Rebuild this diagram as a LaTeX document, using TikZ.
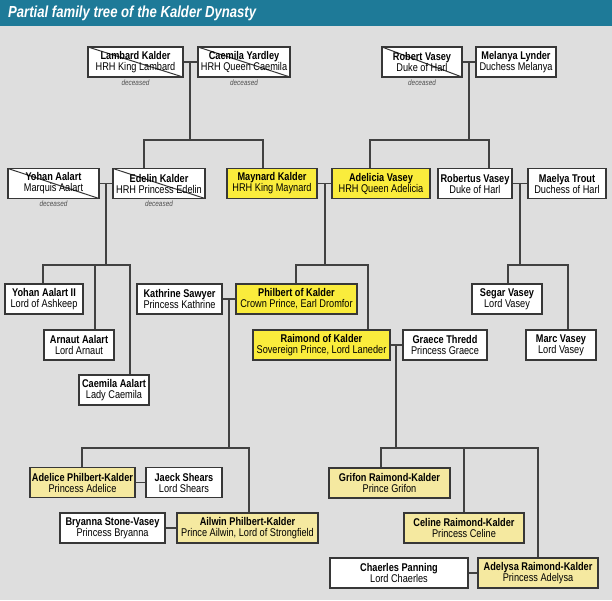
\documentclass[tikz,border=0pt]{standalone}
\usepackage{fontspec}
\setmainfont{Liberation Sans}[FakeStretch=0.82]
\usetikzlibrary{calc}
\definecolor{titlebar}{RGB}{30,122,152}
\definecolor{backdrop}{RGB}{222,222,222}
\definecolor{boxline}{RGB}{55,55,55}
\definecolor{linkgrey}{RGB}{65,65,65}
\definecolor{royalyellow}{RGB}{250,236,60}
\definecolor{paleyellow}{RGB}{245,233,160}
\definecolor{deadgrey}{RGB}{80,80,80}
\begin{document}
\begin{tikzpicture}[x=1pt,y=-1pt,
  person/.style={draw=boxline,line width=1.4pt,fill=white,minimum height=30pt,inner sep=0pt,align=center,font=\fontsize{11.2}{11}\selectfont},
  royal/.style={person,fill=royalyellow},
  heir/.style={person,fill=paleyellow},
  dead/.style={path picture={\draw[boxline,line width=1pt] (path picture bounding box.north west) -- (path picture bounding box.south east);},
    label={[font=\fontsize{7.8}{8}\selectfont\itshape,text=deadgrey,inner sep=1pt,label distance=0.5pt]below:deceased}},
  link/.style={draw=linkgrey,line width=1.5pt}]
\useasboundingbox (0,0) rectangle (612,600);
\fill[backdrop] (0,0) rectangle (612,600);
\fill[titlebar] (0,0) rectangle (612,26);
\node[anchor=west,text=white,inner sep=0pt,font=\fontsize{16}{16}\selectfont\bfseries\itshape] (title) at (8,13.5) {Partial family tree of the Kalder Dynasty};
\node[person,dead,minimum width=95pt] (lambard) at (135.5,62) {\textbf{Lambard Kalder}\\HRH King Lambard};
\node[person,dead,minimum width=92pt] (caemilay) at (244,62) {\textbf{Caemila Yardley}\\HRH Queen Caemila};
\node[person,dead,minimum width=80pt] (robert) at (422,62) {\textbf{Robert Vasey}\\Duke of Harl};
\node[person,minimum width=80pt] (melanya) at (516,62) {\textbf{Melanya Lynder}\\Duchess Melanya};
\node[person,dead,minimum width=91pt] (yohan) at (53.5,183.5) {\textbf{Yohan Aalart}\\Marquis Aalart};
\node[person,dead,minimum width=92pt] (edelin) at (159,183.5) {\textbf{Edelin Kalder}\\HRH Princess Edelin};
\node[royal,minimum width=90pt] (maynard) at (272,183.5) {\textbf{Maynard Kalder}\\HRH King Maynard};
\node[royal,minimum width=98pt] (adelicia) at (381,183.5) {\textbf{Adelicia Vasey}\\HRH Queen Adelicia};
\node[person,minimum width=74pt] (robertus) at (475,183.5) {\textbf{Robertus Vasey}\\Duke of Harl};
\node[person,minimum width=78pt] (maelya) at (567,183.5) {\textbf{Maelya Trout}\\Duchess of Harl};
\node[person,minimum width=78pt] (yohanii) at (44,299) {\textbf{Yohan Aalart II}\\Lord of Ashkeep};
\node[person,minimum width=85pt] (kathrine) at (179.5,299) {\textbf{Kathrine Sawyer}\\Princess Kathrine};
\node[royal,minimum width=121pt] (philbert) at (296.5,299) {\textbf{Philbert of Kalder}\\Crown Prince, Earl Dromfor};
\node[person,minimum width=70pt] (segar) at (507,299) {\textbf{Segar Vasey}\\Lord Vasey};
\node[person,minimum width=70pt] (arnaut) at (79,345) {\textbf{Arnaut Aalart}\\Lord Arnaut};
\node[royal,minimum width=137pt] (raimond) at (321.5,345) {\textbf{Raimond of Kalder}\\Sovereign Prince, Lord Laneder};
\node[person,minimum width=84pt] (graece) at (445,345) {\textbf{Graece Thredd}\\Princess Graece};
\node[person,minimum width=70pt] (marc) at (561,345) {\textbf{Marc Vasey}\\Lord Vasey};
\node[person,minimum width=70pt] (caemilaa) at (114,390) {\textbf{Caemila Aalart}\\Lady Caemila};
\node[heir,minimum width=105pt] (adelice) at (82.5,482.5) {\textbf{Adelice Philbert-Kalder}\\Princess Adelice};
\node[person,minimum width=76pt] (jaeck) at (184,482.5) {\textbf{Jaeck Shears}\\Lord Shears};
\node[heir,minimum width=121pt] (grifon) at (389.5,483) {\textbf{Grifon Raimond-Kalder}\\Prince Grifon};
\node[person,minimum width=105pt] (bryanna) at (112.5,528) {\textbf{Bryanna Stone-Vasey}\\Princess Bryanna};
\node[heir,minimum width=141pt] (ailwin) at (247.5,528) {\textbf{Ailwin Philbert-Kalder}\\Prince Ailwin, Lord of Strongfield};
\node[heir,minimum width=120pt] (celine) at (464,528) {\textbf{Celine Raimond-Kalder}\\Princess Celine};
\node[person,minimum width=138pt] (chaerles) at (399,573) {\textbf{Chaerles Panning}\\Lord Chaerles};
\node[heir,minimum width=120pt] (adelysa) at (538,573) {\textbf{Adelysa Raimond-Kalder}\\Princess Adelysa};
\draw[link] (lambard.east) -- (caemilay.west) (robert.east) -- (melanya.west);
\draw[link] (yohan.east) -- (edelin.west) (maynard.east) -- (adelicia.west) (robertus.east) -- (maelya.west);
\draw[link] (kathrine.east) -- (philbert.west) (raimond.east) -- (graece.west);
\draw[link] (adelice.east) -- (jaeck.west) (bryanna.east) -- (ailwin.west) (chaerles.east) -- (adelysa.west);
\coordinate (lk) at ($(lambard.east)!.5!(caemilay.west)+(-0.5,0)$);
\coordinate (rv) at ($(robert.east)!.5!(melanya.west)$);
\coordinate (ya) at ($(yohan.east)!.5!(edelin.west)$);
\coordinate (mk) at ($(maynard.east)!.5!(adelicia.west)+(0.5,0)$);
\coordinate (rt) at ($(robertus.east)!.5!(maelya.west)$);
\coordinate (pk) at ($(kathrine.east)!.5!(philbert.west)$);
\coordinate (rk) at ($(raimond.east)!.5!(graece.west)+(-0.5,0)$);
\coordinate (kb1) at (144,140); \coordinate (kb2) at (263,140);
\coordinate (vb1) at (370,140); \coordinate (vb2) at (489,140);
\coordinate (ab1) at (43,265); \coordinate (ab2) at (95,265); \coordinate (ab3) at (130,265);
\coordinate (mb1) at (296,265); \coordinate (mb2) at (368,265);
\coordinate (rb1) at (508,265); \coordinate (rb2) at (568,265);
\coordinate (pb1) at (82,448); \coordinate (pb2) at (249,448);
\coordinate (gb1) at (381,448); \coordinate (gb2) at (464,448); \coordinate (gb3) at (538,448);
\draw[link] (lk) -- (lk |- kb1) (kb1 |- edelin.north) -- (kb1) -- (kb2) -- (kb2 |- maynard.north);
\draw[link] (rv) -- (rv |- vb1) (vb1 |- adelicia.north) -- (vb1) -- (vb2) -- (vb2 |- robertus.north);
\draw[link] (ya) -- (ya |- ab1) (ab1 |- yohanii.north) -- (ab1) -- (ab3) -- (ab3 |- caemilaa.north) (ab2) -- (ab2 |- arnaut.north);
\draw[link] (mk) -- (mk |- mb1) (mb1 |- philbert.north) -- (mb1) -- (mb2) -- (mb2 |- raimond.north);
\draw[link] (rt) -- (rt |- rb1) (rb1 |- segar.north) -- (rb1) -- (rb2) -- (rb2 |- marc.north);
\draw[link] (pk) -- (pk |- pb1) (pb1 |- adelice.north) -- (pb1) -- (pb2) -- (pb2 |- ailwin.north);
\draw[link] (rk) -- (rk |- gb1) (gb1 |- grifon.north) -- (gb1) -- (gb3) -- (gb3 |- adelysa.north) (gb2) -- (gb2 |- celine.north);
\end{tikzpicture}
\end{document}
